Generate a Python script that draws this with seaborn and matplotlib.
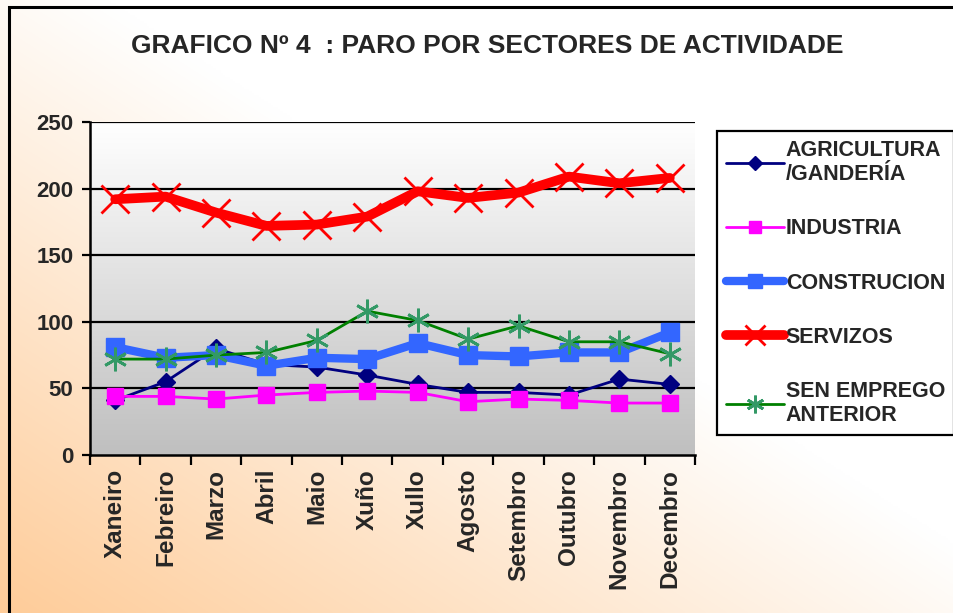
import numpy as np
import pandas as pd
import matplotlib
matplotlib.use("Agg")
import matplotlib.pyplot as plt
import seaborn as sns
from matplotlib.patches import Rectangle

# ---------------- data ----------------
months = ["Xaneiro", "Febreiro", "Marzo", "Abril", "Maio", "Xuño", "Xullo",
          "Agosto", "Setembro", "Outubro", "Novembro", "Decembro"]
agricultura = [41, 55, 80, 68, 66, 60, 53, 47, 47, 45, 57, 53]
industria = [44, 44, 42, 45, 47, 48, 47, 40, 42, 41, 39, 39]
construcion = [81, 73, 75, 67, 73, 72, 84, 75, 74, 77, 77, 92]
servizos = [192, 194, 182, 172, 173, 179, 198, 193, 197, 209, 204, 208]
sen_emprego = [72, 72, 75, 77, 86, 108, 101, 87, 97, 85, 85, 76]

series_names = ["AGRICULTURA\n/GANDERÍA", "INDUSTRIA", "CONSTRUCION", "SERVIZOS",
                "SEN EMPREGO\nANTERIOR"]
series_values = [agricultura, industria, construcion, servizos, sen_emprego]
yticks = [0, 50, 100, 150, 200, 250]
title = "GRAFICO Nº 4  : PARO POR SECTORES DE ACTIVIDADE"

rows = []
for name, vals in zip(series_names, series_values):
    for i, (m, v) in enumerate(zip(months, vals)):
        rows.append({"serie": name, "mes": m, "pos": i, "valor": v})
df = pd.DataFrame(rows)

# ---------------- style ----------------
sns.set_style("white")
plt.rcParams["font.family"] = ["Liberation Sans", "DejaVu Sans"]
plt.rcParams["font.weight"] = "bold"

W, H = 954, 613
fig = plt.figure(figsize=(W / 100, H / 100), dpi=100)

# figure diagonal gradient background
bg = fig.add_axes([0, 0, 1, 1], zorder=-10)
u = np.linspace(0, 1, 400)[None, :]
v = np.linspace(1, 0, 300)[:, None]
w = np.clip(1 - (u + v) * 0.9, 0, 1)
orange = np.array([254, 204, 153]) / 255.0
white = np.array([255, 255, 255]) / 255.0
img = white[None, None, :] + (orange - white)[None, None, :] * w[:, :, None]
bg.imshow(img, extent=[0, 1, 0, 1], aspect="auto", interpolation="bilinear")
bg.set_xlim(0, 1); bg.set_ylim(0, 1)
bg.axis("off")

# frame border (open to right/bottom)
fig.patches.append(Rectangle((9 / W, -0.05), 1.2, 1 - 7 / H + 0.05,
                             transform=fig.transFigure, fill=False,
                             edgecolor="black", linewidth=2.2, zorder=5))

left, right, top, bottom = 90, 695, 122, 455
ax = fig.add_axes([left / W, 1 - bottom / H, (right - left) / W, (bottom - top) / H])
ax.set_facecolor("none")

# plot area vertical gradient
g = np.linspace(1.0, 0.75, 256)[:, None]
grad = np.dstack([g, g, g])
ax.imshow(grad, extent=[-0.5, 11.5, 0, 250], aspect="auto", zorder=0,
          interpolation="bilinear", origin="upper")

styles = {
    series_names[0]: dict(color="#000080", marker="D", markersize=9, lw=2,
                          mfc="#000080", mec="#000080"),
    series_names[1]: dict(color="#FF00FF", marker="s", markersize=11, lw=2,
                          mfc="#FF00FF", mec="#FF00FF"),
    series_names[2]: dict(color="#3366FF", marker="s", markersize=13, lw=6,
                          mfc="#3366FF", mec="#3366FF"),
    series_names[3]: dict(color="#FF0000", marker="x", markersize=20, lw=7,
                          mec="#FF0000", mew=2),
    series_names[4]: dict(color="#008000", marker=(6, 2, 0), markersize=17, lw=2,
                          mec="#339966", mew=2),
}

for k, name in enumerate(series_names):
    st = styles[name]
    sub = df[df["serie"] == name]
    sns.lineplot(data=sub, x="pos", y="valor", ax=ax, sort=False,
                 label=name, color=st["color"], linewidth=st["lw"],
                 marker=st["marker"], markersize=st["markersize"],
                 markeredgecolor=st.get("mec"), markerfacecolor=st.get("mfc", st["color"]),
                 markeredgewidth=st.get("mew", 1), zorder=3 + k, errorbar=None)

ax.set_xlim(-0.5, 11.5)
ax.set_ylim(0, 250)
ax.set_yticks(yticks)
ax.set_yticklabels([str(t) for t in yticks], fontsize=16, fontweight="bold")
for t in yticks[1:]:
    ax.axhline(t, color="black", lw=1.6, zorder=1)

ax.set_xticks(np.arange(len(months)))
ax.set_xticklabels(months, rotation=90, fontsize=17.5, fontweight="bold", va="top")
ax.set_xticks(np.arange(len(months) + 1) - 0.5, minor=True)
ax.tick_params(axis="x", which="major", length=0, pad=10)
ax.tick_params(axis="x", which="minor", length=7, width=1.6, direction="out",
               color="black", bottom=True)
ax.tick_params(axis="y", length=6, width=1.6, direction="out", color="black",
               left=True, pad=6)
ax.set_xlabel("")
ax.set_ylabel("")
for s in ["top", "right"]:
    ax.spines[s].set_visible(False)
for s in ["left", "bottom"]:
    ax.spines[s].set_color("black")
    ax.spines[s].set_linewidth(1.8)
    ax.spines[s].set_zorder(10)

leg = ax.legend(loc="upper left", bbox_to_anchor=(717 / W, 1 - 131 / H),
                bbox_transform=fig.transFigure, borderaxespad=0,
                frameon=True, fancybox=False, edgecolor="black",
                facecolor="white", framealpha=1,
                prop={"weight": "bold", "size": 15.5},
                handlelength=2.7, handletextpad=0.1, labelspacing=1.55,
                borderpad=0.4, markerscale=0.75)
leg.get_frame().set_linewidth(1.6)

fig.text(487 / W, 1 - 46 / H, title, ha="center", va="center",
         fontsize=19, fontweight="bold")

fig.savefig("out.png", dpi=100)
